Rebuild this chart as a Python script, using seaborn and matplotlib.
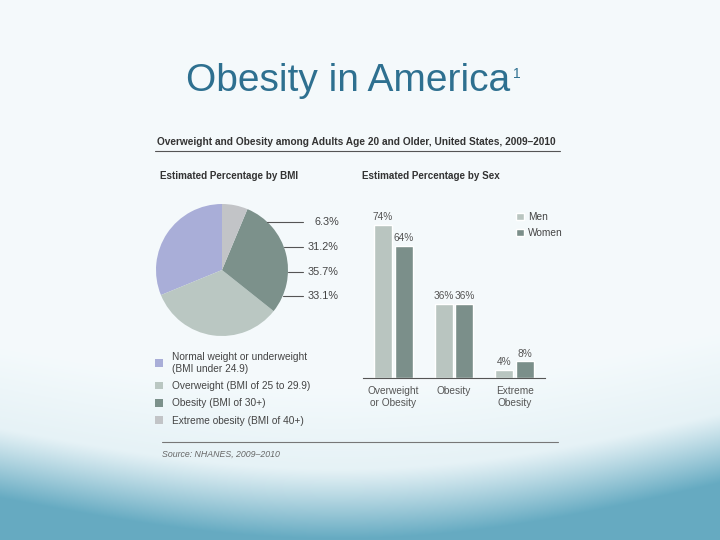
# Obesity in America - slide with pie (by BMI) and bars (by sex)
import numpy as np
import pandas as pd
import matplotlib.pyplot as plt
import seaborn as sns

sns.set_style("white")
plt.rcParams['font.family'] = ['Liberation Sans', 'DejaVu Sans']

# ============================================
# Data
# ============================================

bmi_categories = ['Normal weight or underweight\n(BMI under 24.9)',
                  'Overweight (BMI of 25 to 29.9)',
                  'Obesity (BMI of 30+)',
                  'Extreme obesity (BMI of 40+)']
bmi_pct = [31.2, 33.1, 35.7, 6.3]          # obesity figure includes extreme obesity
pie_labels = ['6.3%', '31.2%', '35.7%', '33.1%']
bmi_colors = ['#a9aed8', '#bac7c2', '#7c918b', '#c2c4c7']

groups = ['Overweight\nor Obesity', 'Obesity', 'Extreme\nObesity']
men = [74, 36, 4]
women = [64, 36, 8]
sex_colors = ['#b9c5c0', '#7b8f8a']

# pie slices: obesity slice shown without the extreme-obesity part
pie_values = [bmi_pct[0], bmi_pct[1], bmi_pct[2] - bmi_pct[3], bmi_pct[3]]

df = pd.DataFrame({'group': groups * 2,
                   'sex': ['Men'] * 3 + ['Women'] * 3,
                   'pct': men + women})

W, H = 720, 540
fig = plt.figure(figsize=(7.2, 5.4), dpi=100)

def fig_box(x0, y0, x1, y1):
    # pixel box (top-left origin) -> figure fraction rect
    return [x0 / W, 1 - y1 / H, (x1 - x0) / W, (y1 - y0) / H]

# ============================================
# Background with blue wave at the bottom
# ============================================

bg = fig.add_axes([0, 0, 1, 1])
bg.set_xlim(0, W)
bg.set_ylim(H, 0)
bg.axis('off')

xx, yy = np.meshgrid(np.arange(W), np.arange(H))
curve = 428 + 48 * np.sin(np.pi * xx / W) - 15 * xx / W
t = np.clip((yy - curve) / 72, 0, 1) ** 1.1
t2 = np.clip((yy - (curve - 80)) / 160, 0, 1) * 0.2
t = np.clip(t * 0.85 + t2, 0, 1)
top = np.array([0.957, 0.980, 0.988])
blue = np.array([0.40, 0.67, 0.76])
img = top[None, None, :] * (1 - t[..., None]) + blue[None, None, :] * t[..., None]
bg.imshow(img, extent=[0, W, H, 0], aspect='auto', zorder=0)

# Slide title with superscript placed right after it
title = bg.text(348, 91, 'Obesity in America', fontsize=28, color='#2e7090',
                ha='center', va='baseline')
fig.canvas.draw()
tb = title.get_window_extent()
bg.text(tb.x1 + 3, 78, '1', fontsize=10, color='#2e7090', ha='left', va='baseline')

# Figure header
bg.text(157, 142, 'Overweight and Obesity among Adults Age 20 and Older, United States, 2009\u20132010',
        fontsize=7.3, fontweight='bold', color='#333333', ha='left', va='center')
bg.plot([155, 560], [151, 151], color='#555555', lw=0.8)
bg.text(160, 176, 'Estimated Percentage by BMI', fontsize=7.1, fontweight='bold',
        color='#333333', ha='left', va='center')
bg.text(362, 176, 'Estimated Percentage by Sex', fontsize=7.1, fontweight='bold',
        color='#333333', ha='left', va='center')

# Source
bg.plot([162, 558], [442, 442], color='#777777', lw=0.8)
bg.text(162, 454, 'Source: NHANES, 2009\u20132010', fontsize=6.3, style='italic',
        color='#666666', ha='left', va='center')

# ============================================
# Pie chart by BMI
# ============================================

pie_ax = fig.add_axes(fig_box(156, 204, 288, 336))
wedges, _ = pie_ax.pie(pie_values, colors=bmi_colors, startangle=90,
                       counterclock=True, wedgeprops=dict(linewidth=0))
pie_ax.set_xlim(-1, 1)
pie_ax.set_ylim(-1, 1)

label_y = [0.727, 0.348, -0.03, -0.394]
for lab, y in zip(pie_labels, label_y):
    x_edge = np.sqrt(1 - y ** 2)
    pie_ax.plot([x_edge, 1.23], [y, y], color='#555555', lw=0.8, clip_on=False)
    pie_ax.text(1.77, y, lab, fontsize=7.8, color='#444444', ha='right', va='center')

fig.legend(wedges, bmi_categories, loc='upper left',
           bbox_to_anchor=(151 / W, 1 - 348 / H), frameon=False,
           fontsize=7.3, labelcolor='#444444', handlelength=0.8, handleheight=0.8,
           handletextpad=0.9, labelspacing=0.72, borderaxespad=0)

# ============================================
# Bar chart by sex
# ============================================

bar_ax = fig.add_axes(fig_box(363, 212.6, 545, 378))
bar_ax.patch.set_alpha(0)
sns.barplot(data=df, x='group', y='pct', hue='sex', palette=sex_colors,
            width=0.68, gap=0.14, saturation=1, ax=bar_ax)
bar_ax.set_ylim(0, 80)
bar_ax.set_xlim(-0.5, 2.5)

for container in bar_ax.containers:
    bar_ax.bar_label(container, fmt='%d%%', padding=2, fontsize=7.3, color='#555555')

sns.despine(ax=bar_ax, left=True)
bar_ax.spines['bottom'].set_color('#555555')
bar_ax.spines['bottom'].set_linewidth(0.8)
bar_ax.set_yticks([])
bar_ax.set_xlabel('')
bar_ax.set_ylabel('')
bar_ax.tick_params(axis='x', length=0, pad=6, labelsize=7.3, labelcolor='#555555')
bar_ax.set_xticks([-0.5, 0.5, 1.5, 2.5], minor=True)
bar_ax.tick_params(axis='x', which='minor', direction='in', length=3,
                   width=0.8, color='#555555')

bar_ax.legend(loc='upper left', bbox_to_anchor=(512 / W, 1 - 208 / H),
              bbox_transform=fig.transFigure, frameon=False, fontsize=7.3,
              labelcolor='#444444', handlelength=0.8, handleheight=0.8,
              handletextpad=0.4, labelspacing=0.6, borderaxespad=0)

fig.savefig('out.png', dpi=100)
